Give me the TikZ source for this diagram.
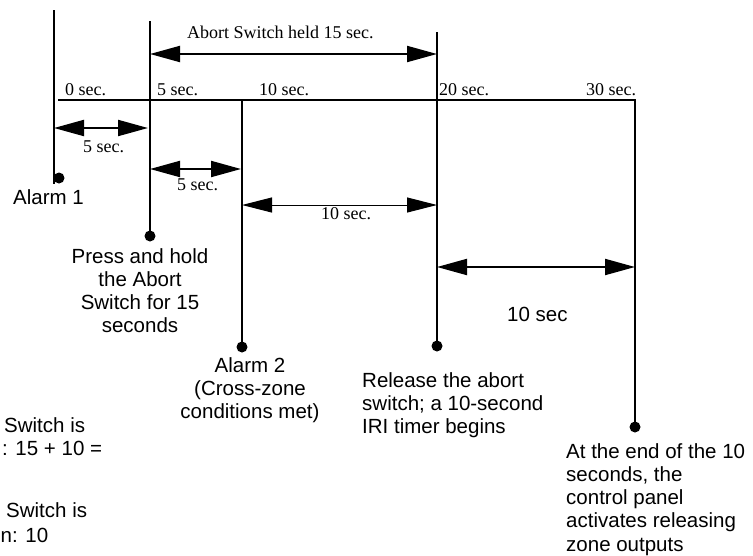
\documentclass[tikz,border=0pt]{standalone}
\usepackage{fontspec}
\setmainfont{Liberation Serif}
\setsansfont{Liberation Sans}
\usetikzlibrary{arrows.meta}
\tikzset{
  tl/.style={line width=2pt},
  tlthin/.style={line width=1.4pt},
  dot/.style={circle, fill=black, inner sep=0pt, minimum size=11pt},
  dimarr/.style={line width=2pt, {Triangle[length=30pt,width=16pt]}-{Triangle[length=30pt,width=16pt]}},
  dimthin/.style={line width=1pt, {Triangle[length=30pt,width=15pt]}-{Triangle[length=30pt,width=15pt]}},
  lbl/.style={font=\fontsize{18}{20}\selectfont, inner sep=0pt},
  txt/.style={font=\sffamily\fontsize{20.5}{23.3}\selectfont, inner sep=0pt},
}
\begin{document}
\begin{tikzpicture}[x=1pt,y=-1pt]
\useasboundingbox (0,0) rectangle (753,555);
% vertical markers
\coordinate (a1top) at (54,10);
\coordinate (a1bot) at (54,184);
\node[dot] (a1dot) at (59,178) {};
\coordinate (ptop) at (150,21);
\node[dot] (pdot) at (150,236) {};
\coordinate (a2top) at (242,100);
\node[dot] (a2dot) at (242,347) {};
\coordinate (rtop) at (437,32);
\node[dot] (rdot) at (437,346) {};
\coordinate (t0) at (58,100);
\coordinate (t30) at (635,100);
\node[dot] (edot) at (635,427) {};

\draw[tlthin] (a1top) -- (a1bot);
\draw[tl] (ptop) -- (pdot.center);
\draw[tl] (a2top) -- (a2dot.center);
\draw[tl] (rtop) -- (rdot.center);
\draw[tl] (t0) -- (t30) -- (edot.center);

% dimension arrows
\coordinate (abL) at (150,54);
\coordinate (abR) at (437,54);
\draw[dimarr] (abL) -- (abR);
\coordinate (f1L) at (54,128);
\coordinate (f1R) at (148,128);
\draw[dimarr] (f1L) -- (f1R);
\coordinate (f2L) at (150,169);
\coordinate (f2R) at (241,169);
\draw[dimarr] (f2L) -- (f2R);
\coordinate (tnL) at (242,205);
\coordinate (tnR) at (437,205);
\draw[dimthin] (tnL) -- (tnR);
\coordinate (bgL) at (437,267);
\coordinate (bgR) at (635,267);
\draw[dimarr] (bgL) -- (bgR);

% serif labels
\node[lbl, anchor=base west] (lab) at (187,38) {Abort Switch held 15 sec.};
\node[lbl, anchor=base west] (s0) at (65,95) {0 sec.};
\node[lbl, anchor=base west] (s5) at (157,95) {5 sec.};
\node[lbl, anchor=base west] (s10) at (259,95) {10 sec.};
\node[lbl, anchor=base west] (s20) at (439,95) {20 sec.};
\node[lbl, anchor=base west] (s30) at (586,95) {30 sec.};
\node[lbl, anchor=base west] (l5a) at (83,152) {5 sec.};
\node[lbl, anchor=base west] (l5b) at (177,190) {5 sec.};
\node[lbl, anchor=base west] (l10) at (321,219) {10 sec.};

% sans texts
\node[txt, anchor=base west] (alarm1) at (13,204) {Alarm 1};
\node[txt, align=center, anchor=north] (press) at (140,248) {Press and hold\\the Abort\\Switch for 15\\seconds};
\node[txt, align=center, anchor=north] (alarm2) at (250,357) {Alarm 2\\(Cross-zone\\conditions met)};
\node[txt, align=left, anchor=north west] (release) at (362,372) {Release the abort\\switch; a 10-second\\IRI timer begins};
\node[txt, align=left, anchor=north west] (endt) at (566,443) {At the end of the 10\\seconds, the\\control panel\\activates releasing\\zone outputs};
\node[txt, anchor=base west] (tensec) at (507,321) {10 sec};
\node[txt, anchor=base west] (lf1) at (4,432) {Switch is};
\node[txt, anchor=base west] (lf2) at (2,455) {: 15 + 10 =};
\node[txt, anchor=base west] (lf3) at (6,517) {Switch is};
\node[txt, anchor=base west] (lf4) at (0.5,542) {n: 10};
\end{tikzpicture}
\end{document}
